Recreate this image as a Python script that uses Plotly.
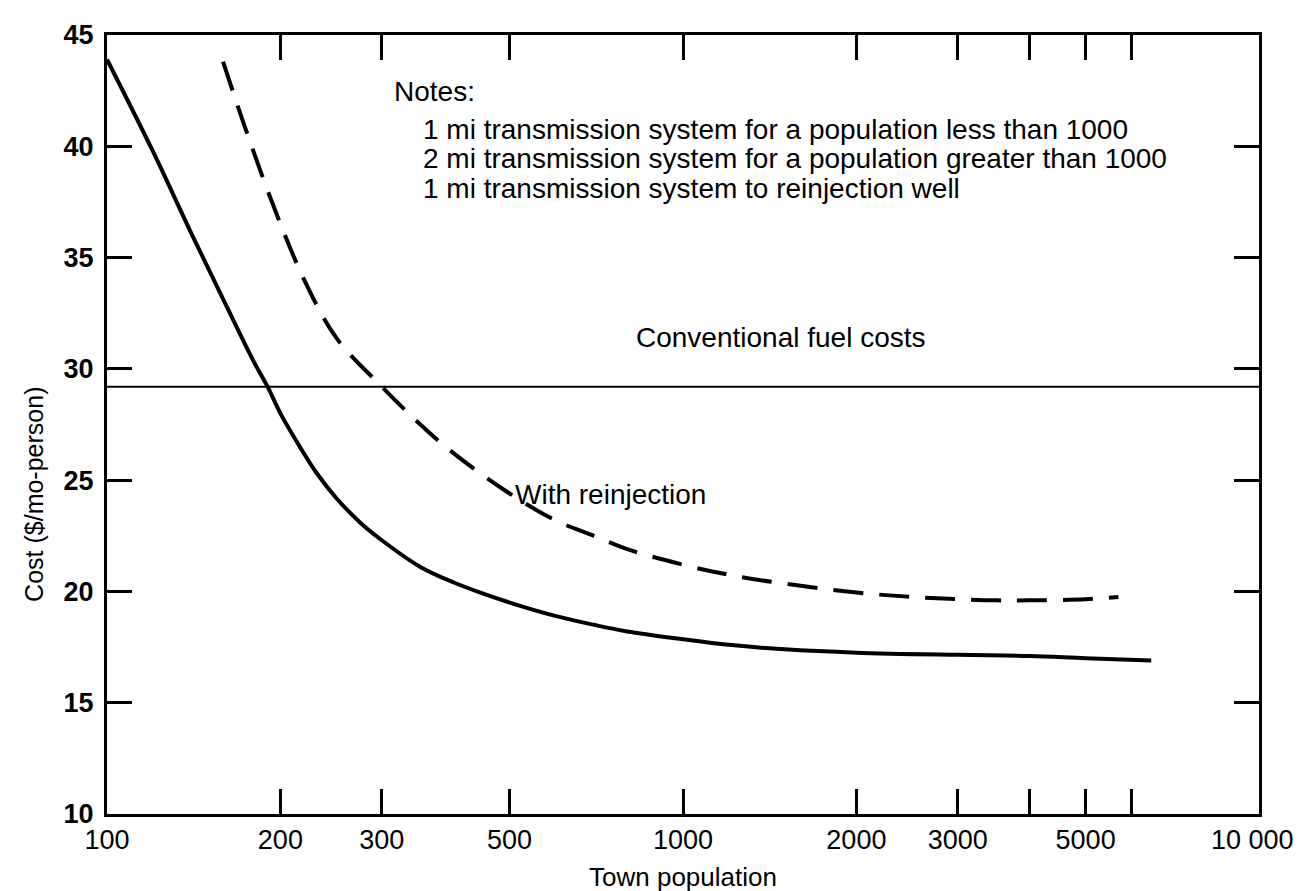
import plotly.graph_objects as go

# ---- data ----
pop_solid = [100, 120, 140, 160, 180, 190, 200, 215, 230, 250, 275, 300, 350, 400, 450, 500,
             600, 700, 800, 1000, 1200, 1500, 2000, 3000, 4000, 5000, 6500]
cost_solid = [43.9, 39.8, 36.1, 33.0, 30.3, 29.2, 28.0, 26.6, 25.4, 24.2, 23.1, 22.3, 21.1, 20.4,
              19.9, 19.5, 18.9, 18.5, 18.2, 17.85, 17.6, 17.4, 17.25, 17.15, 17.1, 17.0, 16.9]

pop_reinj = [159, 175, 196, 220, 250, 300, 350, 400, 500, 600, 700, 800, 1000, 1200, 1500,
             2000, 2500, 3000, 3500, 4000, 5000, 5700]
cost_reinj = [43.8, 40.6, 37.1, 34.0, 31.4, 29.2, 27.5, 26.2, 24.4, 23.2, 22.5, 21.9, 21.2,
              20.75, 20.35, 19.95, 19.75, 19.65, 19.6, 19.6, 19.65, 19.75]

conv_pop = [100, 10000]
conv_cost = [29.2, 29.2]

x_tickvals = [100, 200, 300, 500, 1000, 2000, 3000, 4000, 5000, 6000, 10000]
x_ticktext = ["100", "200", "300", "500", "1000", "2000", "3000", "", "5000", "", ""]
last_x_label = "10 000"
y_tickvals = [10, 15, 20, 25, 30, 35, 40, 45]

notes = ["1 mi transmission system for a population less than 1000",
         "2 mi transmission system for a population greater than 1000",
         "1 mi transmission system to reinjection well"]

FONT = "Liberation Sans"

fig = go.Figure()
fig.add_trace(go.Scatter(x=conv_pop, y=conv_cost, mode="lines",
                         line=dict(color="black", width=2), showlegend=False, hoverinfo="skip"))
fig.add_trace(go.Scatter(x=pop_solid, y=cost_solid, mode="lines", line_shape="spline",
                         line=dict(color="black", width=4), showlegend=False))
fig.add_trace(go.Scatter(x=pop_reinj, y=cost_reinj, mode="lines", line_shape="spline",
                         line=dict(color="black", width=4, dash="30px,16px"), showlegend=False))

fig.update_layout(
    width=1302, height=891,
    margin=dict(l=99, r=51, t=23, b=85),
    paper_bgcolor="white", plot_bgcolor="white",
    font=dict(family=FONT, color="black"),
    xaxis=dict(type="log", range=[2, 4], tickvals=x_tickvals, ticktext=x_ticktext,
               ticks="inside", ticklen=25, tickwidth=3, tickcolor="black",
               showline=True, linewidth=3, linecolor="black", mirror="ticks",
               showgrid=False, zeroline=False,
               tickfont=dict(size=27, family=FONT, color="black")),
    yaxis=dict(range=[10, 45], tickvals=y_tickvals,
               ticks="inside", ticklen=25, tickwidth=3, tickcolor="black",
               showline=True, linewidth=3, linecolor="black", mirror="ticks",
               showgrid=False, zeroline=False, ticklabelstandoff=5,
               tickfont=dict(size=27, family=FONT, color="black", weight="bold")),
)

ann = []
ann.append(dict(text=last_x_label, xref="paper", yref="paper", x=0.994, y=-0.034,
                xanchor="center", yanchor="middle", showarrow=False,
                font=dict(size=27, family=FONT)))
ann.append(dict(text="Town population", xref="paper", yref="paper", x=0.5, y=-0.081,
                xanchor="center", yanchor="middle", showarrow=False,
                font=dict(size=26, family=FONT)))
ann.append(dict(text="Cost ($/mo-person)", xref="paper", yref="paper", x=-0.064, y=0.41,
                xanchor="center", yanchor="middle", textangle=-90, showarrow=False,
                font=dict(size=25, family=FONT)))
ann.append(dict(text="Notes:", xref="paper", yref="paper", x=0.247, y=0.927,
                xanchor="left", yanchor="middle", showarrow=False,
                font=dict(size=28, family=FONT)))
for i, t in enumerate(notes):
    ann.append(dict(text=t, xref="paper", yref="paper", x=0.2726, y=0.879 - i * 0.038,
                    xanchor="left", yanchor="middle", showarrow=False,
                    font=dict(size=28, family=FONT)))
ann.append(dict(text="Conventional fuel costs", xref="paper", yref="paper", x=0.585, y=0.612,
                xanchor="center", yanchor="middle", showarrow=False,
                font=dict(size=28, family=FONT)))
ann.append(dict(text="With reinjection", xref="paper", yref="paper", x=0.352, y=0.41,
                xanchor="left", yanchor="middle", showarrow=False,
                font=dict(size=28, family=FONT)))
fig.update_layout(annotations=ann)

fig.write_html("out.html")
